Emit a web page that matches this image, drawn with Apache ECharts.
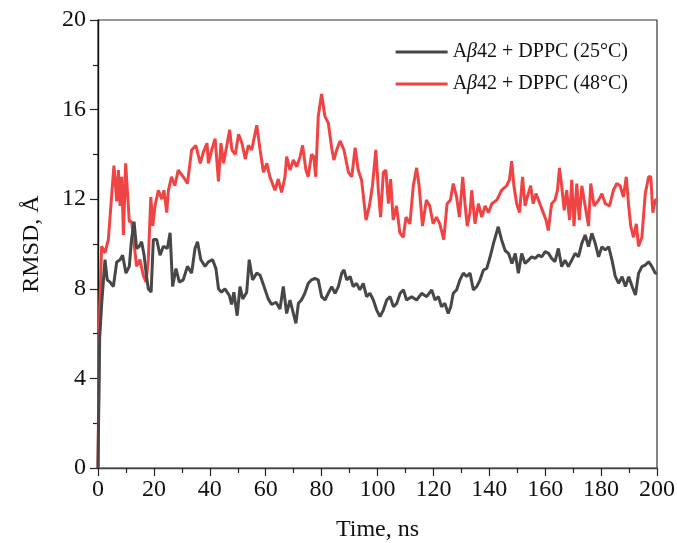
<!DOCTYPE html>
<html><head><meta charset="utf-8">
<script src="https://cdn.jsdelivr.net/npm/echarts@6/dist/echarts.min.js"></script>
<style>html,body{margin:0;padding:0;background:#fff}#c{width:677px;height:543px}</style>
</head><body><div id="c"></div>
<script>
// Series 1: Aβ42 + DPPC (25°C)
const time25 = [0,0.3,0.6,1.3,2.5,3.3,4.3,5.5,6.7,7.9,8.8,10.0,11.2,12,12.9,13.8,14.8,15.6,16.5,17.2,18,19,19.8,21,22.2,23.4,24.8,25.8,26.7,27.9,29.1,30.5,32,33.5,34.7,35.6,36.8,38.3,39.5,41,42.2,43.1,44.2,45.4,47,47.8,48.6,49.8,50.8,51.8,53.2,54.1,55.3,56.8,58,59.4,60.9,62.1,63.7,65.1,66.3,67.5,68.7,69.9,70.8,71.7,72.8,74,75.2,76.4,77.6,78.8,80,81.2,82.4,83.6,84.8,86,87.2,88,89,90.2,91.3,92.5,93.7,94.9,96.1,97.3,98.5,99.7,100.9,102.1,103.3,104.5,105.7,106.9,108.1,109.3,110.4,112.2,114,115.8,117.6,119.4,120.6,121.8,122.9,124.1,125.3,126.2,127.1,128.3,129.5,130.7,131.9,133.1,134.3,135.5,136.7,137.9,139.1,140.3,141.5,143.2,144.4,145.7,146.9,148.1,149.3,150.4,151.6,152.8,154,155.2,156.4,157.6,158.8,160,161.2,162.3,163.5,164.7,165.9,167.1,168.3,169.5,170.7,171.9,173.1,174.3,175.5,176.7,177.9,179.1,180.3,181.5,182.7,183.9,185.1,186.3,187.5,188.7,189.9,191.1,192.3,193.4,194.6,195.8,197,198.2,199.4,200];
const rmsd25 = [0,3,5.8,7.3,9.3,8.4,8.3,8.1,9.2,9.3,9.5,8.7,9.0,10.2,11.0,9.8,9.9,10.1,9.5,8.7,8.0,7.85,10.2,10.2,9.5,9.9,9.8,10.5,8.1,8.9,8.3,8.4,9.0,8.7,9.8,10.1,9.3,9.0,9.2,9.3,8.9,8.0,7.85,8.0,7.7,7.3,7.85,6.8,8.1,7.55,7.85,9.3,8.4,8.7,8.6,8.1,7.55,7.3,7.4,7.1,8.1,6.9,7.5,6.9,6.46,7.35,7.5,7.8,8.24,8.4,8.46,8.4,7.65,7.5,7.8,8.1,7.8,8.1,8.7,8.84,8.4,8.55,8.1,8.24,7.95,8.24,7.65,7.8,7.5,7.05,6.76,7.05,7.5,7.65,7.2,7.35,7.8,7.95,7.5,7.65,7.5,7.8,7.65,7.95,7.5,7.65,7.2,7.35,6.9,7.2,7.8,7.95,8.4,8.7,8.55,8.7,7.95,8.1,8.4,8.84,8.91,9.43,10.03,10.77,10.18,9.7,9.58,9.13,9.58,8.69,9.58,9.13,9.28,9.43,9.36,9.5,9.43,9.66,9.58,9.36,9.21,9.8,8.99,9.28,8.99,9.28,9.58,9.43,10.03,10.4,9.88,10.48,10.03,9.43,9.88,9.73,9.88,9.28,8.54,8.24,8.54,8.1,8.54,8.1,7.72,8.69,8.99,9.06,9.21,8.99,8.69,8.7];
// Series 2: Aβ42 + DPPC (48°C)
const time48 = [0,0.3,0.6,1.3,2.5,3.7,5.7,6.7,7.3,7.9,8.5,9.1,9.9,10.5,11.2,12.0,12.6,13.8,15.0,16.2,17.2,18.0,18.9,19.6,20.4,21.6,22.8,23.6,24.6,25.2,26.3,27.5,28.7,30.5,32,33.5,35,36.6,37.7,39,39.5,40.7,41.9,43.1,44,44.9,46.1,47.1,47.9,49.1,50.3,51.5,52.7,53.8,55,56.8,58,59.2,60.4,61.5,63.3,64.5,65.7,66.9,67.5,68.7,69.9,71.1,72.3,73.2,74.4,75.2,76.4,77.2,77.9,78.8,80,81.2,82.4,83.6,84.4,85.4,86.6,88,89.6,90.8,92,93.1,94.3,95.9,97.1,98.2,99.4,100.3,101.1,102.1,103,103.9,104.7,105.6,106.8,108,109.2,110.2,111.6,112.8,114,114.9,116.1,117.5,118.7,119.9,121.1,122.3,123.7,124.9,126.1,127.1,128.3,129.3,130.5,131.3,132.1,133.1,133.7,134.9,136.1,137.3,138.5,139.7,140.9,142.7,144.4,146.2,147.2,148,148.8,149.8,150.8,151.9,152.8,153.6,154.8,155.7,156.7,158.1,159.3,160.3,161.1,162.3,163.5,164.4,165.1,165.9,166.8,167.7,168.7,169.5,170.3,171.3,172.2,173.1,174.3,175.5,176.3,177.5,179.1,180.3,181.5,183,184.4,185.6,186.8,188,189,189.8,190.6,191.6,192.6,193.4,194.6,195.8,197,197.8,198.5,199.4,200];
const rmsd48 = [0,4,7,9.9,9.6,10.2,13.5,11.9,13.3,11.7,13,10.4,13.6,12.4,11,11,10.4,9.0,9.3,8.6,8.3,9.3,12.1,10.8,11.7,12.4,12.0,12.4,11.4,12.4,13.0,12.6,13.3,13.0,12.7,14.2,14.4,13.6,14.1,14.5,13.6,14.2,14.7,12.8,14.5,13.6,14.4,15.1,14.2,14.0,14.9,14.5,13.8,14.4,14.2,15.3,14.2,13.2,13.6,13.0,12.4,12.9,12.3,13.0,13.9,13.3,13.75,13.45,13.9,14.4,13.3,13.0,14.0,13.9,13.0,15.7,16.7,15.7,15.4,14.3,13.75,14.2,14.6,14.2,13.2,13.0,14.3,13.3,12.86,11.07,11.7,12.6,14.2,12.4,11.2,13.2,13.3,11.8,12.9,11.07,11.7,10.5,10.3,11.2,10.9,12.6,13.4,12.6,10.8,11.96,11.7,10.9,11.2,10.9,10.2,11.8,11.96,12.7,12.1,11.2,13.0,11.8,10.8,11.4,12.4,10.9,11.8,11.2,11.7,11.4,11.8,11.96,12.4,12.6,12.86,13.7,12.6,11.8,11.4,13.0,11.7,12.1,12.6,11.8,12.25,11.8,11.4,11.07,10.6,11.8,11.96,12.4,13.4,12.6,11.5,12.4,11.07,12.86,10.8,12.7,11.07,12.6,11.7,10.8,12.7,11.7,11.96,12.25,11.8,11.7,12.4,12.7,12.6,12.1,13.0,11.8,10.8,10.3,10.9,9.9,10.3,12.25,13.0,13.0,11.4,11.96,12.0];
const seriesNames = ['Aβ42 + DPPC (25°C)', 'Aβ42 + DPPC (48°C)'];
const xTicks = [0,20,40,60,80,100,120,140,160,180,200];
const yTicks = [0,4,8,12,16,20];

const zip = (t, v) => t.map((x, i) => [x, v[i]]);
const FONT = 'Liberation Serif';
const chart = echarts.init(document.getElementById('c'), null, {renderer: 'canvas'});
chart.setOption({
  animation: false,
  backgroundColor: '#fff',
  grid: {left: 98, right: 20, top: 20, bottom: 75, show: true, borderColor: '#333', borderWidth: 1.2,
         containLabel: false, outerBoundsMode: 'none'},
  legend: {
    right: 44, top: 37, orient: 'vertical', itemGap: 12,
    itemWidth: 52, itemHeight: 3, icon: 'rect',
    textStyle: {fontFamily: FONT, fontSize: 20, color: '#111', rich: {i: {fontFamily: FONT, fontStyle: 'italic', fontSize: 20}}},
    formatter: n => n.replace('β', '{i|β}'),
    data: seriesNames
  },
  xAxis: {
    type: 'value', min: 0, max: 200, interval: 20,
    name: 'Time, ns', nameLocation: 'middle', nameGap: 50,
    nameTextStyle: {fontFamily: FONT, fontSize: 24, color: '#111'},
    axisLine: {lineStyle: {color: '#444', width: 1.4}},
    axisTick: {length: 8, lineStyle: {color: '#222', width: 1.2}},
    minorTick: {show: true, splitNumber: 2, length: 5, lineStyle: {color: '#222', width: 1.2}},
    splitLine: {show: false},
    axisLabel: {fontFamily: FONT, fontSize: 24, color: '#111', margin: 10,
      formatter: v => xTicks.includes(v) ? String(v) : ''}
  },
  yAxis: {
    type: 'value', min: 0, max: 20, interval: 4,
    name: 'RMSD, Å', nameLocation: 'middle', nameGap: 54, nameRotate: 90,
    nameTextStyle: {fontFamily: FONT, fontSize: 24, color: '#111'},
    axisLine: {lineStyle: {color: '#111', width: 1.4}},
    axisTick: {length: 8, lineStyle: {color: '#222', width: 1.2}},
    minorTick: {show: true, splitNumber: 2, length: 5, lineStyle: {color: '#222', width: 1.2}},
    splitLine: {show: false},
    axisLabel: {fontFamily: FONT, fontSize: 24, color: '#111', margin: 12,
      formatter: v => yTicks.includes(v) ? String(v) : ''}
  },
  series: [
    {name: seriesNames[0], type: 'line', data: zip(time25, rmsd25), showSymbol: false, symbol: 'none',
     lineStyle: {color: '#474747', width: 3}, itemStyle: {color: '#474747'}, z: 3},
    {name: seriesNames[1], type: 'line', data: zip(time48, rmsd48), showSymbol: false, symbol: 'none',
     lineStyle: {color: '#f04444', width: 3}, itemStyle: {color: '#f04444'}, z: 2}
  ]
});
</script></body></html>
